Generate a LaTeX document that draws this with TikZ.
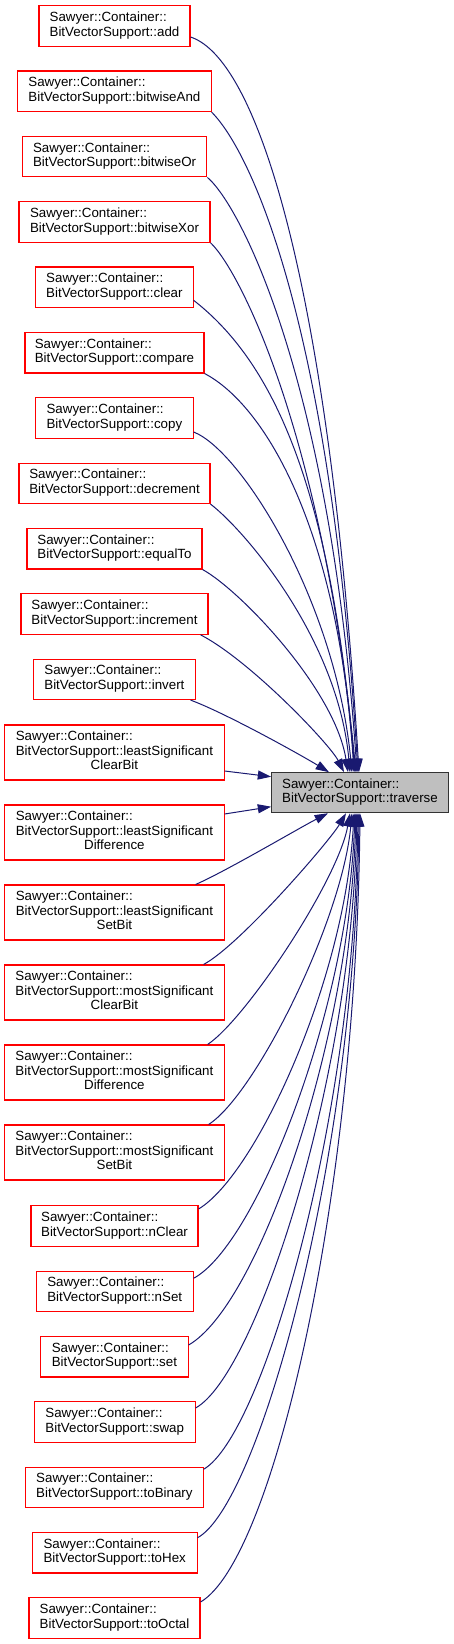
\documentclass[tikz,border=0pt]{standalone}
\usepackage{fontspec}
\setmainfont{Liberation Sans}
\usetikzlibrary{arrows.meta,calc}
\definecolor{edgeblue}{HTML}{191970}
\definecolor{boxgray}{HTML}{BFBFBF}
\definecolor{boxred}{HTML}{FF0000}
\newcommand{\twol}[1]{\begin{tabular}{@{}l@{}}Sawyer::Container::\\BitVectorSupport::#1\end{tabular}}
\newcommand{\threel}[2]{\begin{tabular}{@{}l@{}}Sawyer::Container::\\BitVectorSupport::#1\\\multicolumn{1}{@{}c@{}}{#2}\end{tabular}}
\renewcommand{\arraystretch}{0.908}
\tikzset{
  caller/.style={draw=boxred, line width=0.8pt, inner sep=0pt, minimum height=30.4pt,
    font=\fontsize{10}{12}\selectfont},
  callerthree/.style={caller, minimum height=41.25pt, minimum width=164.5pt},
  target/.style={draw=black!80, fill=boxgray, line width=0.8pt, inner sep=0pt,
    minimum height=30pt, minimum width=132.5pt, font=\fontsize{10}{12}\selectfont},
  edge/.style={draw=edgeblue, line width=0.75pt,
    -{Triangle[length=10pt,width=6.75pt]}}
}
\begin{document}
\begin{tikzpicture}[x=0.75pt,y=-0.75pt]
\useasboundingbox (0,0) rectangle (453,1644);
% callers above
\node[caller, minimum width=113.25pt] (add) at (114.5,26) {\twol{add}};
\node[caller, minimum width=145pt] (band) at (114.4,91.3) {\twol{bitwiseAnd}};
\node[caller, minimum width=138.5pt] (bor) at (114.6,156.7) {\twol{bitwiseOr}};
\node[caller, minimum width=143.25pt] (bxor) at (114.5,222) {\twol{bitwiseXor}};
\node[caller, minimum width=118pt] (clear) at (114.4,287.3) {\twol{clear}};
\node[caller, minimum width=134.25pt] (compare) at (114.5,352.7) {\twol{compare}};
\node[caller, minimum width=118pt] (copy) at (114.4,418) {\twol{copy}};
\node[caller, minimum width=143.25pt] (decrement) at (114.5,483.3) {\twol{decrement}};
\node[caller, minimum width=131.25pt] (equalto) at (114.5,548.7) {\twol{equalTo}};
\node[caller, minimum width=140.25pt] (increment) at (114.5,614) {\twol{increment}};
\node[caller, minimum width=121pt] (invert) at (114.4,679.3) {\twol{invert}};
% three-line callers
\node[callerthree] (lsclear) at (114.4,752.5) {\threel{leastSignificant}{ClearBit}};
\node[callerthree] (lsdiff) at (114.4,832.5) {\threel{leastSignificant}{Difference}};
\node[callerthree] (lsset) at (114.4,912.5) {\threel{leastSignificant}{SetBit}};
\node[callerthree] (msclear) at (114.4,992.5) {\threel{mostSignificant}{ClearBit}};
\node[callerthree] (msdiff) at (114.4,1072.5) {\threel{mostSignificant}{Difference}};
\node[callerthree] (msset) at (114.4,1152.5) {\threel{mostSignificant}{SetBit}};
% callers below
\node[caller, minimum width=125.25pt] (nclear) at (114.5,1226) {\twol{nClear}};
\node[caller, minimum width=117.5pt] (nset) at (114.7,1291.3) {\twol{nSet}};
\node[caller, minimum width=110.5pt] (set) at (114.4,1356.7) {\twol{set}};
\node[caller, minimum width=120.5pt] (swap) at (114.7,1422) {\twol{swap}};
\node[caller, minimum width=133pt] (tobinary) at (114.4,1487.3) {\twol{toBinary}};
\node[caller, minimum width=123.5pt] (tohex) at (114.7,1552.7) {\twol{toHex}};
\node[caller, minimum width=128.25pt] (tooctal) at (114.5,1618) {\twol{toOctal}};
% target
\node[target] (tr) at (360,792.7) {\twol{traverse}};
% edges from above
\draw[edge] ($(add.east)+(0,11)$) .. controls +(70,23) and +(-29,-472.7) .. ($(tr.north)+(-1,0)$);
\draw[edge] (band.south east) .. controls +(39,39) and +(-28,-452.7) .. ($(tr.north)+(-2,0)$);
\draw[edge] (bor.south east) .. controls +(33,28) and +(-27,-392.7) .. ($(tr.north)+(-3,0)$);
\draw[edge] (bxor.south east) .. controls +(28,26) and +(-34,-342.7) .. ($(tr.north)+(-4,0)$);
\draw[edge] ($(clear.east)+(0,13)$) .. controls +(77,60) and +(-25,-292.7) .. ($(tr.north)+(-5,0)$);
\draw[edge] (compare.south east) .. controls +(61,32) and +(-16,-242.7) .. ($(tr.north)+(-6,0)$);
\draw[edge] ($(copy.east)+(0,14)$) .. controls +(47,18) and +(-17,-172.7) .. ($(tr.north)+(-8,0)$);
\draw[edge] (decrement.south east) .. controls +(35,27) and +(-12,-132.7) .. ($(tr.north)+(-10,0)$);
\draw[edge] (equalto.south east) .. controls +(38,21) and +(-13,-82.7) .. ($(tr.north)+(-12,0)$);
\draw[edge] ($(increment.south east)+(-8,0)$) .. controls +(50,26) and +(-14,-27.7) .. ($(tr.north)+(-16,0)$);
\draw[edge] ($(invert.south east)+(-5,0)$) .. controls +(35,13) and +(-29,-17.7) .. ($(tr.north)+(-31,0)$);
% edges from the left
\draw[edge] ($(lsclear.east)+(0,18.5)$) -- ($(tr.west)+(0,-16)$);
\draw[edge] ($(lsdiff.east)+(0,-18.5)$) -- ($(tr.west)+(0,14)$);
% edges from below
\draw[edge] ($(lsset.north east)+(-29,0)$) .. controls +(30,-13) and +(-28,14.3) .. ($(tr.south)+(-32,0)$);
\draw[edge] ($(msclear.north east)+(-21,0)$) .. controls +(37,-20) and +(-16,27.3) .. ($(tr.south)+(-14,0)$);
\draw[edge] ($(msdiff.north east)+(-17,0)$) .. controls +(38,-25) and +(-12,67.3) .. ($(tr.south)+(-10,0)$);
\draw[edge] ($(msset.north east)+(-16,0)$) .. controls +(47,-30) and +(-10,107.3) .. ($(tr.south)+(-8,0)$);
\draw[edge] ($(nclear.east)+(0,-17)$) .. controls +(57,-34) and +(-9,167.3) .. ($(tr.south)+(-6,0)$);
\draw[edge] ($(nset.east)+(0,-13)$) .. controls +(62,-33) and +(-7,197.3) .. ($(tr.south)+(-5,0)$);
\draw[edge] ($(set.east)+(0,-11.7)$) .. controls +(70,-40) and +(-6,227.3) .. ($(tr.south)+(-4,0)$);
\draw[edge] ($(swap.east)+(0,-14)$) .. controls +(60,-33) and +(-5,267.3) .. ($(tr.south)+(-3,0)$);
\draw[edge] ($(tobinary.east)+(0,-18)$) .. controls +(59,-34) and +(-4,307.3) .. ($(tr.south)+(-2,0)$);
\draw[edge] ($(tohex.east)+(0,-15)$) .. controls +(61,-33) and +(-4,347.3) .. ($(tr.south)+(-1,0)$);
\draw[edge] ($(tooctal.east)+(0,-16)$) .. controls +(72,-42) and +(-4,387.3) .. (tr.south);
\end{tikzpicture}
\end{document}
